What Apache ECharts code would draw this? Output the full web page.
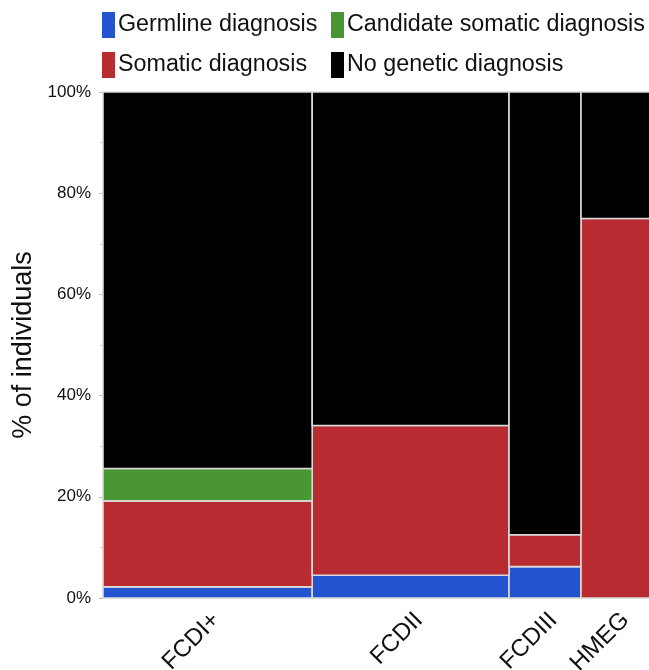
<!DOCTYPE html>
<html>
<head>
<meta charset="utf-8">
<script src="https://cdn.jsdelivr.net/npm/echarts@6/dist/echarts.min.js"></script>
<style>html,body{margin:0;padding:0;background:#fff;}#c{width:649px;height:670px;}</style>
</head>
<body>
<div id="c"></div>
<script>
var categories = ['FCDI+', 'FCDII', 'FCDIII', 'HMEG'];
var counts = [46.5, 43.75, 16, 16];
var germline = [2.2, 4.5, 6.2, 0];
var somatic = [17.0, 29.6, 6.3, 75];
var candidate = [6.4, 0, 0, 0];
var noDiagnosis = [74.4, 65.9, 87.5, 25];
var yTicks = [0, 20, 40, 60, 80, 100];

var seriesDefs = [
  { name: 'Germline diagnosis', values: germline, color: '#2454cf' },
  { name: 'Somatic diagnosis', values: somatic, color: '#b82c31' },
  { name: 'Candidate somatic diagnosis', values: candidate, color: '#4a9632' },
  { name: 'No genetic diagnosis', values: noDiagnosis, color: '#000000' }
];

var xStarts = [], centers = [], total = 0;
counts.forEach(function (c) { xStarts.push(total); centers.push(total + c / 2); total += c; });

var cum = counts.map(function () { return 0; });
var series = seriesDefs.map(function (s) {
  var data = [];
  s.values.forEach(function (v, i) {
    var y0 = cum[i], y1 = cum[i] + v;
    cum[i] = y1;
    if (v > 0) data.push([xStarts[i], xStarts[i] + counts[i], y0, y1]);
  });
  return {
    type: 'custom',
    name: s.name,
    itemStyle: { color: s.color },
    data: data,
    encode: { x: [0, 1], y: [2, 3] },
    renderItem: function (params, api) {
      var p0 = api.coord([api.value(0), api.value(3)]);
      var p1 = api.coord([api.value(1), api.value(2)]);
      return {
        type: 'rect',
        shape: { x: p0[0], y: p0[1], width: p1[0] - p0[0], height: p1[1] - p0[1] },
        style: { fill: s.color, stroke: '#d9d9d9', lineWidth: 1.6 }
      };
    }
  };
});

function legendAt(name, left, top) {
  return {
    data: [name], left: left, top: top, padding: 0, selectedMode: false,
    icon: 'rect', itemWidth: 13, itemHeight: 26, itemGap: 0,
    textStyle: { fontSize: 23.3, color: '#111', fontFamily: 'Liberation Sans, Arial, sans-serif', padding: [0, 0, 0, -2] }
  };
}

var chart = echarts.init(document.getElementById('c'));
chart.setOption({
  animation: false,
  textStyle: { fontFamily: 'Liberation Sans, Arial, sans-serif' },
  legend: [
    legendAt('Germline diagnosis', 102, 12),
    legendAt('Candidate somatic diagnosis', 331, 12),
    legendAt('Somatic diagnosis', 102, 52),
    legendAt('No genetic diagnosis', 331, 52)
  ],
  grid: { left: 103, top: 92, width: 550, bottom: 72, containLabel: false, outerBoundsMode: 'none' },
  xAxis: {
    type: 'value', min: 0, max: total,
    axisLine: { show: false }, axisTick: { show: false }, splitLine: { show: false },
    axisLabel: {
      customValues: centers,
      formatter: function (v) {
        for (var i = 0; i < centers.length; i++) if (Math.abs(centers[i] - v) < 1e-6) return categories[i];
        return '';
      },
      rotate: 45, fontSize: 24, color: '#111', margin: 10, verticalAlign: 'top'
    }
  },
  yAxis: {
    type: 'value', min: 0, max: 100, interval: 20, offset: 4,
    name: '% of individuals', nameLocation: 'middle', nameGap: 58,
    nameTextStyle: { fontSize: 27, color: '#111' },
    axisLine: { show: false },
    axisTick: { show: true, length: 4, lineStyle: { color: '#bbb' } },
    minorTick: { show: true, splitNumber: 2, length: 3, lineStyle: { color: '#ccc' } },
    splitLine: { show: false },
    axisLabel: { formatter: '{value}%', fontSize: 17, color: '#111', margin: 8 }
  },
  series: series
});
</script>
</body>
</html>
